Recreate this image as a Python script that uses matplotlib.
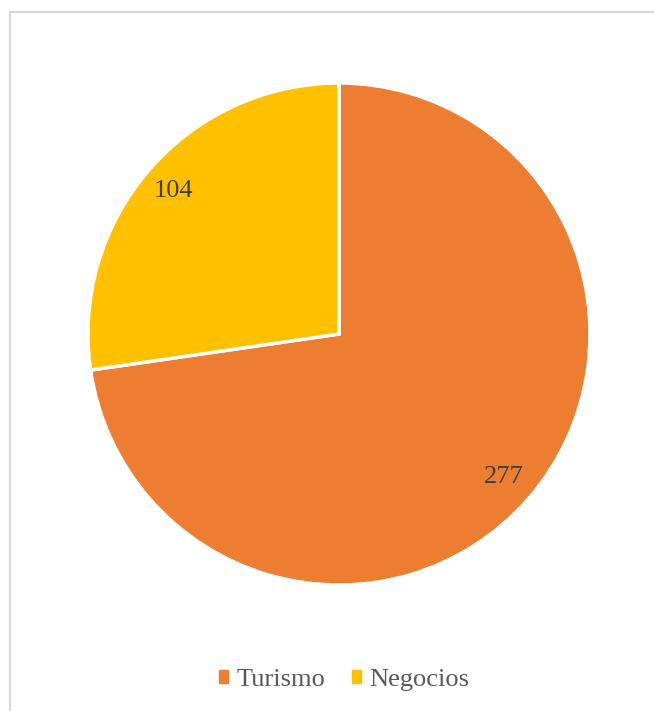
import matplotlib
matplotlib.use("Agg")
import matplotlib.pyplot as plt
from matplotlib.lines import Line2D

plt.rcParams['font.family'] = ['Liberation Serif', 'DejaVu Serif']

labels = ["Turismo", "Negocios"]
values = [277, 104]
colors = ["#ED7D31", "#FFC000"]

W, H = 654, 711
fig = plt.figure(figsize=(W / 100, H / 100), dpi=100)

# pie area in pixels: centre (339, 334), radius ~251
cx, cy, r = 339, 334, 251
ax = fig.add_axes([(cx - r) / W, (H - cy - r) / H, 2 * r / W, 2 * r / H])

wedges, texts, autotexts = ax.pie(
    values, colors=colors, startangle=90, counterclock=False,
    radius=1, pctdistance=0.87,
    autopct=lambda p: f"{round(p * sum(values) / 100):d}",
    wedgeprops=dict(edgecolor="white", linewidth=2.5),
    textprops=dict(color="#404040", fontsize=19),
)
ax.set_xlim(-1, 1)
ax.set_ylim(-1, 1)
ax.set_aspect("equal")
ax.axis("off")

handles = [plt.Rectangle((0, 0), 1, 1, color=c) for c in colors]
fig.legend(handles, labels, loc="center", bbox_to_anchor=(344 / W, 1 - 680 / H),
           ncol=2, frameon=False, fontsize=19, labelcolor="#595959",
           handlelength=0.36, handleheight=0.36, handletextpad=0.3,
           columnspacing=1.0)

# chart frame (only top and left edges show)
fig.add_artist(Line2D([10 / W, 10 / W], [0, 1 - 12 / H], color="#d9d9d9", lw=1.5,
                      transform=fig.transFigure))
fig.add_artist(Line2D([10 / W, 1], [1 - 12 / H, 1 - 12 / H], color="#d9d9d9", lw=1.5,
                      transform=fig.transFigure))

fig.savefig("out.png", dpi=100, facecolor="white")
